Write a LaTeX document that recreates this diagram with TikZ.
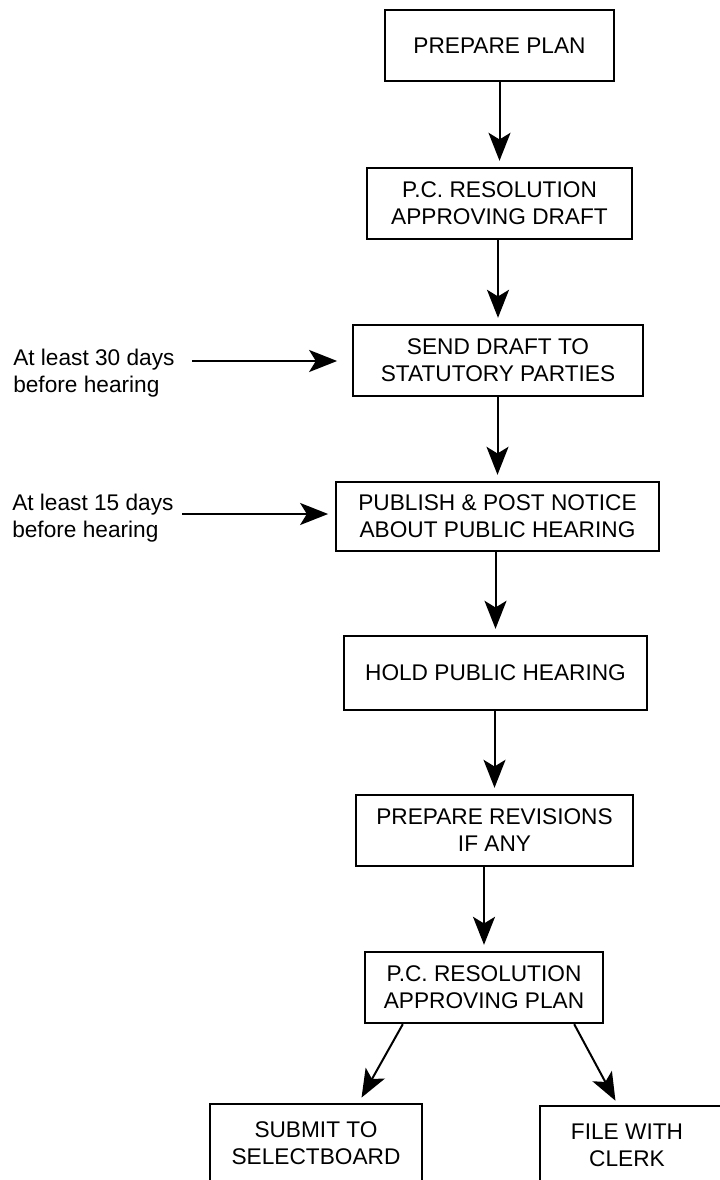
\documentclass[tikz,border=0pt]{standalone}
\usepackage{fontspec}
\setmainfont{Liberation Sans}
\usetikzlibrary{arrows.meta,calc}
\def\pxu{0.75pt}
\begin{document}
\begin{tikzpicture}[x=0.75pt,y=-0.75pt,
  txtfont/.style={font=\fontsize{17}{20.25}\selectfont},
  stepbox/.style={draw, line width=1.8pt, align=center, txtfont, inner sep=0pt},
  frame/.style={draw, line width=1.8pt},
  lbl/.style={align=left, txtfont, inner sep=0pt},
  ctext/.style={align=center, txtfont, inner sep=0pt},
  arr/.style={line width=1.5pt, -{Stealth[length=21pt,width=16.5pt,inset=5pt]}, shorten >=4.5pt}]
\useasboundingbox (0,0) rectangle (720,1180);

% main boxes
\node[stepbox, minimum width=229*\pxu, minimum height=71*\pxu] (b1) at (499.5,45.5) {PREPARE PLAN};
\node[stepbox, minimum width=265*\pxu, minimum height=71*\pxu] (b2) at (499.5,203.5) {P.C. RESOLUTION\\APPROVING DRAFT};
\node[stepbox, minimum width=290*\pxu, minimum height=71*\pxu] (b3) at (498,360.5) {SEND DRAFT TO\\STATUTORY PARTIES};
\node[stepbox, minimum width=323*\pxu, minimum height=69*\pxu] (b4) at (497.5,516.5) {PUBLISH \& POST NOTICE\\ABOUT PUBLIC HEARING};
\node[stepbox, minimum width=303*\pxu, minimum height=74*\pxu] (b5) at (495.5,673) {HOLD PUBLIC HEARING};
\node[stepbox, minimum width=277*\pxu, minimum height=71*\pxu] (b6) at (494.5,830.5) {PREPARE REVISIONS\\IF ANY};
\node[stepbox, minimum width=238*\pxu, minimum height=71*\pxu] (b7) at (484,987.5) {P.C. RESOLUTION\\APPROVING PLAN};
\node[stepbox, minimum width=212*\pxu, minimum height=78*\pxu] (b8) at (316,1143) {SUBMIT TO\\SELECTBOARD};
\node[ctext] (b9) at (627,1145.5) {FILE WITH\\CLERK};
\draw[frame] ($(b9.center)+(-87,-39.5)$) rectangle ($(b9.center)+(113,40.5)$);

% side labels
\node[lbl, anchor=north west] (l30) at (13,349) {At least 30 days\\before hearing};
\node[lbl, anchor=north west] (l15) at (12,494) {At least 15 days\\before hearing};
\coordinate (s30) at (192,361);
\coordinate (s15) at (182,514);

% vertical connectors
\draw[arr] (b1.south -| b2.north) -- (b2.north);
\draw[arr] (b2.south -| b3.north) -- (b3.north);
\draw[arr] (b3.south -| b4.north) -- (b4.north);
\draw[arr] (b4.south -| b5.north) -- (b5.north);
\draw[arr] (b5.south -| b6.north) -- (b6.north);
\draw[arr] (b6.south -| b7.north) -- (b7.north);

% side connectors
\draw[arr, shorten >=11pt] (s30) -- (s30 -| b3.west);
\draw[arr, shorten >=5pt] (s15) -- (s15 -| b4.west);

% diagonal connectors
\draw[arr] ($(b7.south west)+(39,0)$) -- ($(b8.north)+(42.6,0)$);
\draw[arr] ($(b7.south east)+(-30,0)$) -- ($(b9.center)+(-8.7,-39.5)$);
\end{tikzpicture}
\end{document}
